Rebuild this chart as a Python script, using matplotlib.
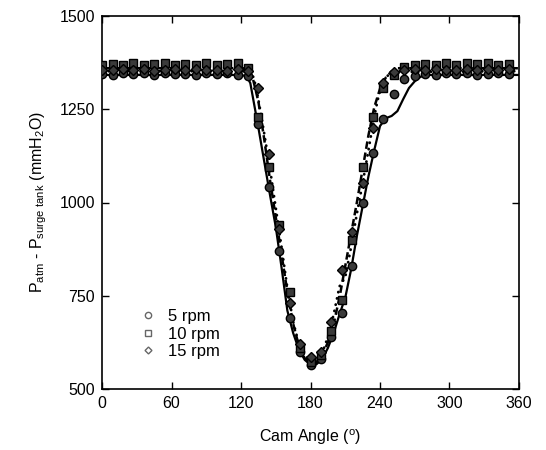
import matplotlib
matplotlib.use("Agg")
import matplotlib.pyplot as plt
from matplotlib.lines import Line2D

plt.rcParams['font.family'] = ['Liberation Sans', 'DejaVu Sans']
plt.rcParams['mathtext.fontset'] = 'custom'
plt.rcParams['mathtext.rm'] = 'Liberation Sans'

# ---------------- data ----------------
angles = list(range(0, 360, 9))

rpm5 = [1345, 1342, 1347, 1344, 1346, 1343, 1348, 1344, 1345, 1342, 1347, 1344, 1346, 1343,
        1338, 1210, 1041, 870, 690, 600, 565, 580, 640, 704, 830, 999, 1133, 1225, 1290, 1330,
        1340, 1345, 1343, 1347, 1344, 1346, 1342, 1345, 1347, 1344]
rpm10 = [1370, 1372, 1368, 1374, 1369, 1371, 1373, 1368, 1372, 1370, 1374, 1369, 1371, 1373,
         1360, 1229, 1095, 940, 760, 610, 572, 590, 655, 739, 900, 1095, 1229, 1307, 1342, 1362,
         1368, 1372, 1370, 1374, 1369, 1373, 1371, 1375, 1370, 1372]
rpm15 = [1356, 1354, 1358, 1355, 1357, 1353, 1356, 1358, 1354, 1357, 1355, 1356, 1353, 1357,
         1352, 1307, 1130, 930, 730, 620, 585, 600, 680, 820, 920, 1052, 1200, 1320, 1350, 1356,
         1357, 1355, 1358, 1354, 1356, 1357, 1355, 1358, 1356, 1357]

# fitted curves (knots)
fit5_x = [0, 120, 125, 128, 135, 140, 145, 150, 155, 160, 165, 170, 175, 180, 185, 190, 195,
          200, 205, 210, 215, 220, 225, 230, 235, 240, 245, 250, 255, 260, 265, 270, 275, 280, 360]
fit5_y = [1342, 1342, 1338, 1320, 1200, 1110, 1020, 934, 825, 710, 650, 605, 578, 565, 566,
          580, 610, 650, 700, 745, 820, 910, 990, 1070, 1140, 1205, 1226, 1232, 1245, 1277,
          1307, 1325, 1337, 1342, 1342]

fit10_x = [0, 122, 126, 130, 135, 140, 145, 150, 155, 160, 165, 170, 175, 180, 185, 190, 195,
           200, 205, 210, 215, 220, 225, 230, 235, 240, 245, 250, 255, 360]
fit10_y = [1360, 1360, 1355, 1335, 1270, 1170, 1060, 960, 860, 760, 675, 615, 582, 570, 572,
           590, 625, 675, 745, 830, 915, 1000, 1090, 1180, 1255, 1305, 1335, 1352, 1360, 1360]

fit15_x = [0, 125, 130, 133, 137, 140, 145, 150, 155, 160, 165, 170, 175, 180, 185, 190, 195,
           200, 205, 210, 215, 220, 225, 230, 235, 238, 241, 245, 250, 360]
fit15_y = [1352, 1352, 1342, 1310, 1240, 1185, 1090, 985, 880, 770, 680, 620, 590, 575, 577,
           595, 640, 700, 775, 800, 880, 970, 1052, 1140, 1230, 1275, 1310, 1335, 1350, 1352]

labels = ['5 rpm', '10 rpm', '15 rpm']
xticks = [0, 60, 120, 180, 240, 300, 360]
yticks = [500, 750, 1000, 1250, 1500]

# ---------------- figure ----------------
fig = plt.figure(figsize=(5.46, 4.5), dpi=100)
ax = fig.add_axes([0.187, 0.1356, 0.7635, 0.8288])

ax.plot(fit5_x, fit5_y, '-', color='black', lw=1.6, zorder=3)
ax.plot(fit10_x, fit10_y, color='black', lw=1.8, dashes=(3, 1.5), zorder=3)
ax.plot(fit15_x, fit15_y, color='black', lw=2.0, dashes=(0.1, 2.2),
        dash_capstyle='round', zorder=3)

mk = dict(linestyle='none', markerfacecolor='#3a3a3a', markeredgecolor='black',
          markeredgewidth=1.0, zorder=4)
ax.plot(angles, rpm5, marker='o', markersize=6, **mk)
ax.plot(angles, rpm10, marker='s', markersize=6, **mk)
ax.plot(angles, rpm15, marker='D', markersize=5, **mk)

ax.set_xlim(0, 360)
ax.set_ylim(500, 1500)
ax.set_xticks(xticks)
ax.set_yticks(yticks)
ax.tick_params(direction='in', top=True, right=True, length=5, width=1,
               labelsize=11.5, pad=5)
for s in ax.spines.values():
    s.set_linewidth(1.2)

ax.set_xlabel(r'Cam Angle ($^{\mathregular{o}}$)', fontsize=11.5, labelpad=12)
ax.set_ylabel(r'P$_{\mathregular{atm}}$ - P$_{\mathregular{surge\ tank}}$ (mmH$_{\mathregular{2}}$O)',
              fontsize=11.5, labelpad=8)

handles = [Line2D([], [], linestyle='none', marker=m, markersize=ms, markerfacecolor='white',
                  markeredgecolor='#666666', markeredgewidth=1.0)
           for m, ms in [('o', 4.5), ('s', 4.5), ('D', 3.5)]]
ax.legend(handles, labels, loc='lower left', bbox_to_anchor=(0.05, 0.04), frameon=False,
          fontsize=12, handletextpad=0.6, labelspacing=0.15, handlelength=1.2)

fig.savefig('out.png', dpi=100)
